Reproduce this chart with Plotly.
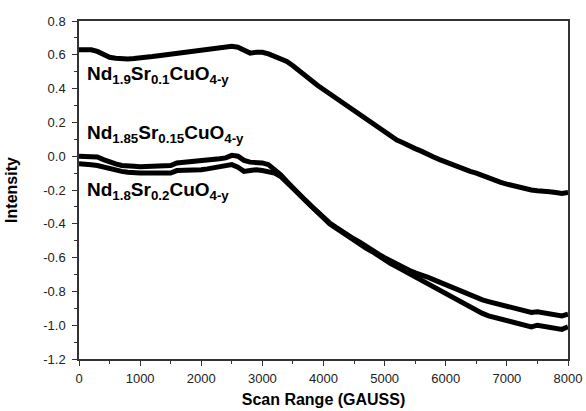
import plotly.graph_objects as go

scan_range = list(range(0, 8001, 100))

nd19_sr01 = [0.63, 0.63, 0.63, 0.62, 0.60, 0.585, 0.58, 0.575, 0.575, 0.578,
             0.58, 0.585, 0.59, 0.595, 0.60, 0.605, 0.61, 0.615, 0.62, 0.62,
             0.625, 0.63, 0.635, 0.64, 0.645, 0.65, 0.645, 0.625, 0.61, 0.615,
             0.615, 0.605, 0.59, 0.575, 0.56, 0.535, 0.505, 0.475, 0.45, 0.42,
             0.395, 0.37, 0.345, 0.32, 0.295, 0.27, 0.245, 0.22, 0.195, 0.165,
             0.14, 0.115, 0.095, 0.08, 0.06, 0.045, 0.03, 0.01, -0.005, -0.02,
             -0.035, -0.05, -0.065, -0.08, -0.09, -0.10, -0.115, -0.13, -0.14, -0.155,
             -0.165, -0.175, -0.185, -0.19, -0.20, -0.205, -0.205, -0.21, -0.215, -0.22,
             -0.215]

nd185_sr015 = [0.0, 0.0, 0.0, -0.005, -0.02, -0.035, -0.045, -0.055, -0.06, -0.06,
               -0.062, -0.06, -0.058, -0.056, -0.055, -0.055, -0.04, -0.037, -0.035, -0.03,
               -0.03, -0.025, -0.02, -0.015, -0.01, 0.005, 0.0, -0.025, -0.035, -0.035,
               -0.04, -0.05, -0.08, -0.11, -0.15, -0.19, -0.225, -0.26, -0.295, -0.33,
               -0.37, -0.395, -0.42, -0.445, -0.47, -0.49, -0.51, -0.535, -0.555, -0.58,
               -0.6, -0.62, -0.64, -0.655, -0.675, -0.69, -0.70, -0.715, -0.73, -0.745,
               -0.76, -0.775, -0.795, -0.81, -0.825, -0.84, -0.85, -0.86, -0.87, -0.88,
               -0.89, -0.895, -0.905, -0.915, -0.925, -0.92, -0.925, -0.93, -0.935, -0.945,
               -0.935]

nd18_sr02 = [-0.045, -0.045, -0.05, -0.055, -0.065, -0.075, -0.085, -0.09, -0.095, -0.1,
             -0.1, -0.1, -0.1, -0.1, -0.1, -0.1, -0.085, -0.085, -0.085, -0.08,
             -0.08, -0.075, -0.07, -0.065, -0.06, -0.05, -0.065, -0.09, -0.085, -0.08,
             -0.085, -0.095, -0.1, -0.12, -0.155, -0.19, -0.23, -0.265, -0.3, -0.335,
             -0.375, -0.4, -0.425, -0.45, -0.475, -0.5, -0.52, -0.545, -0.565, -0.59,
             -0.615, -0.635, -0.655, -0.675, -0.695, -0.715, -0.73, -0.75, -0.77, -0.79,
             -0.81, -0.83, -0.855, -0.875, -0.895, -0.91, -0.93, -0.945, -0.955, -0.965,
             -0.975, -0.985, -0.995, -1.0, -1.01, -1.0, -1.005, -1.01, -1.015, -1.025,
             -1.01]

x_tickvals = [0, 1000, 2000, 3000, 4000, 5000, 6000, 7000, 8000]
x_ticktext = ["0", "1000", "2000", "3000", "4000", "5000", "6000", "7000", "8000"]
y_tickvals = [0.8, 0.6, 0.4, 0.2, 0.0, -0.2, -0.4, -0.6, -0.8, -1.0, -1.2]
y_ticktext = ["0.8", "0.6", "0.4", "0.2", "0.0", "-0.2", "-0.4", "-0.6", "-0.8", "-1.0", "-1.2"]

labels = [
    ("Nd<sub>1.9</sub>Sr<sub>0.1</sub>CuO<sub>4-y</sub>", 0.48),
    ("Nd<sub>1.85</sub>Sr<sub>0.15</sub>CuO<sub>4-y</sub>", 0.13),
    ("Nd<sub>1.8</sub>Sr<sub>0.2</sub>CuO<sub>4-y</sub>", -0.205),
]

fig = go.Figure()
for ys in (nd19_sr01, nd185_sr015, nd18_sr02):
    fig.add_trace(go.Scatter(x=scan_range, y=ys, mode="lines",
                             line=dict(color="black", width=5),
                             showlegend=False, hoverinfo="skip"))

for text, yv in labels:
    fig.add_annotation(x=100, y=yv, xref="x", yref="y", text="<b>" + text + "</b>",
                       showarrow=False, xanchor="left", yanchor="middle",
                       font=dict(family="Liberation Sans, Arial", size=19, color="black"))

axis_font = dict(family="Liberation Sans, Arial", size=13, color="#222")
title_font = dict(family="Liberation Sans, Arial", size=16, color="black")

fig.update_layout(
    width=586, height=411,
    margin=dict(l=79, r=18, t=21, b=52),
    paper_bgcolor="white", plot_bgcolor="white",
    xaxis=dict(range=[0, 8000], tickvals=x_tickvals, ticktext=x_ticktext,
               ticks="outside", ticklen=5, tickwidth=1.2, tickcolor="#333",
               showline=True, linecolor="#333", linewidth=1.5, mirror=True,
               showgrid=False, zeroline=False, tickfont=axis_font, automargin=False,
               ticklabelstandoff=2,
               minor=dict(ticks="outside", ticklen=3, dtick=500, tick0=0, tickcolor="#333", showgrid=False),
               title=dict(text="<b>Scan Range (GAUSS)</b>", font=title_font, standoff=8)),
    yaxis=dict(range=[-1.2, 0.8], tickvals=y_tickvals, ticktext=y_ticktext,
               ticks="outside", ticklen=5, tickwidth=1.2, tickcolor="#333",
               showline=True, linecolor="#333", linewidth=1.5, mirror=True,
               showgrid=False, zeroline=False, tickfont=axis_font, automargin=False,
               ticklabelstandoff=4,
               minor=dict(ticks="outside", ticklen=3, dtick=0.1, tick0=0, tickcolor="#333", showgrid=False),
               title=dict(text="<b>Intensity</b>", font=title_font, standoff=22)),
)

fig.write_html("out.html")
